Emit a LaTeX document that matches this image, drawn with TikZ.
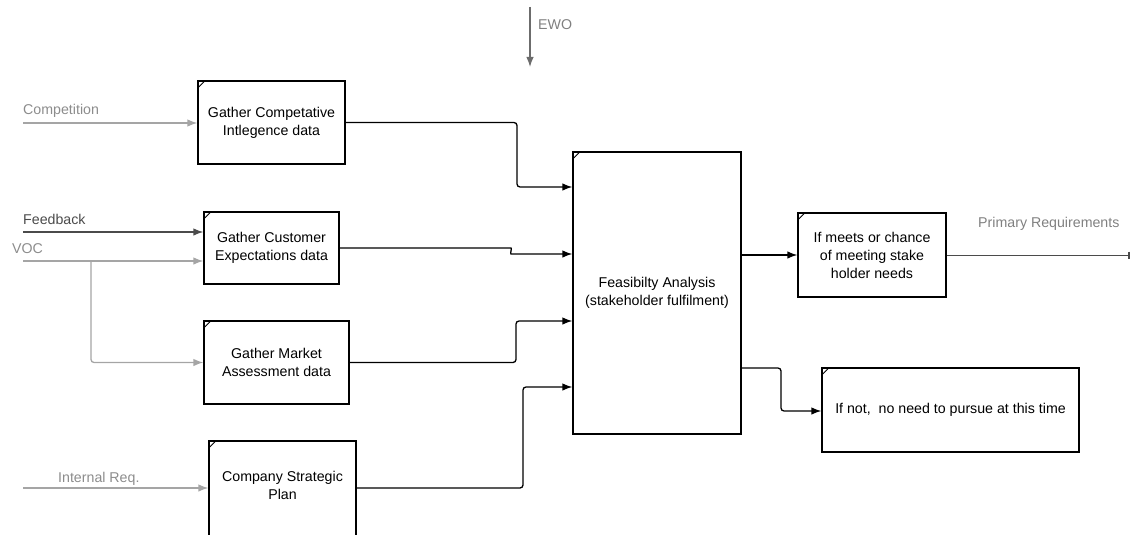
\documentclass[tikz,border=0pt]{standalone}
\usepackage{fontspec}
\setmainfont{Liberation Sans}
\usetikzlibrary{arrows.meta}
\definecolor{lgray}{RGB}{165,165,165}
\definecolor{tgray}{RGB}{140,140,140}
\definecolor{dgray}{RGB}{75,75,75}
\begin{document}
\begin{tikzpicture}[x=1pt,y=-1pt,
 font=\fontsize{14.2}{18}\selectfont,
 box/.style={draw=black,line width=1.3pt,inner sep=0pt,align=center},
 tip/.style={-{Latex[length=10pt,width=7.5pt]}},
 conn/.style={line width=1.3pt,black,rounded corners=3pt,tip},
 gconn/.style={line width=1.3pt,lgray,rounded corners=3pt,tip},
 lbl/.style={inner sep=0pt,anchor=west,text=tgray},
 tick/.style={line width=0.8pt}
]
\useasboundingbox (0,0) rectangle (1133,535);
\clip (0,0) rectangle (1133,535);

% boxes
\node[box,minimum width=147pt,minimum height=83pt] (comp) at (271.5,122.5) {Gather Competative\\Intlegence data};
\node[box,minimum width=135pt,minimum height=72pt] (cust) at (271.5,248) {Gather Customer\\Expectations data};
\node[box,minimum width=145pt,minimum height=83pt] (mkt) at (276.5,362.5) {Gather Market\\Assessment data};
\node[box,minimum width=147pt,minimum height=100pt] (strat) at (282.5,491) {};
\node[inner sep=0pt,align=center] (stratlbl) at (282.5,485) {Company Strategic\\Plan};
\node[box,minimum width=168pt,minimum height=282pt] (feas) at (657,293) {Feasibilty Analysis\\(stakeholder fulfilment)};
\node[box,minimum width=148pt,minimum height=84pt] (meets) at (872,255) {If meets or chance\\of meeting stake\\holder needs};
\node[box,minimum width=257pt,minimum height=84pt] (notn) at (950.5,410) {If not,\ \ no need to pursue at this time};

% corner ticks
\foreach \b in {comp,cust,mkt,strat,feas,meets,notn}
  \draw[tick] (\b.north west) ++(0,8) -- ++(8,-8);

% input coordinates
\coordinate (cin) at (23,123);
\coordinate (fin) at (23,232);
\coordinate (vin) at (23,261);
\coordinate (vbr) at (91,261);
\coordinate (iin) at (23,488);
\coordinate (ewo) at (530,7);
\coordinate (ewoend) at (530,67);
\coordinate (pend) at (1130,255);

% inputs
\draw[gconn] (cin) -- (cin -| comp.west);
\draw[conn,dgray] (fin) -- (fin -| cust.west);
\draw[gconn] (vin) -- (vin -| cust.west);
\draw[gconn] (vbr) |- (mkt.west);
\draw[gconn] (iin) -- (iin -| strat.west);
\draw[line width=1.3pt,gray!85!black,tip] (ewo) -- (ewoend);

% labels
\node[lbl] (lcomp) at (23,111) {Competition};
\node[lbl,text=dgray] (lfeed) at (23,219) {Feedback};
\node[lbl] (lvoc) at (12,249) {VOC};
\node[lbl] (lint) at (58,479) {Internal Req.};
\node[lbl,text=gray] (lewo) at (538,25) {EWO};
\node[lbl,text=gray] (lprim) at (978,224) {Primary Requirements};

% outputs to feasibility
\draw[conn] (comp.east) -| (517,187) -- (feas.west |- 0,187);
\draw[conn] (cust.east) -- (508,248) .. controls (512,248) and (510,254) .. (514,254) -- (feas.west |- 0,254);
\draw[conn] (mkt.east) -| (516,321) -- (feas.west |- 0,321);
\draw[conn] (strat.east |- 0,488) -| (523,387) -- (feas.west |- 0,387);

% outputs of feasibility
\draw[conn] (feas.east |- meets.west) -- (meets.west);
\draw[conn] (feas.east |- 0,368) -| (781,411) -- (notn.west |- 0,411);
\draw[line width=1pt,dgray,-{Bar[width=7pt,line width=2.5pt]}] (meets.east) -- (pend);
\end{tikzpicture}
\end{document}
